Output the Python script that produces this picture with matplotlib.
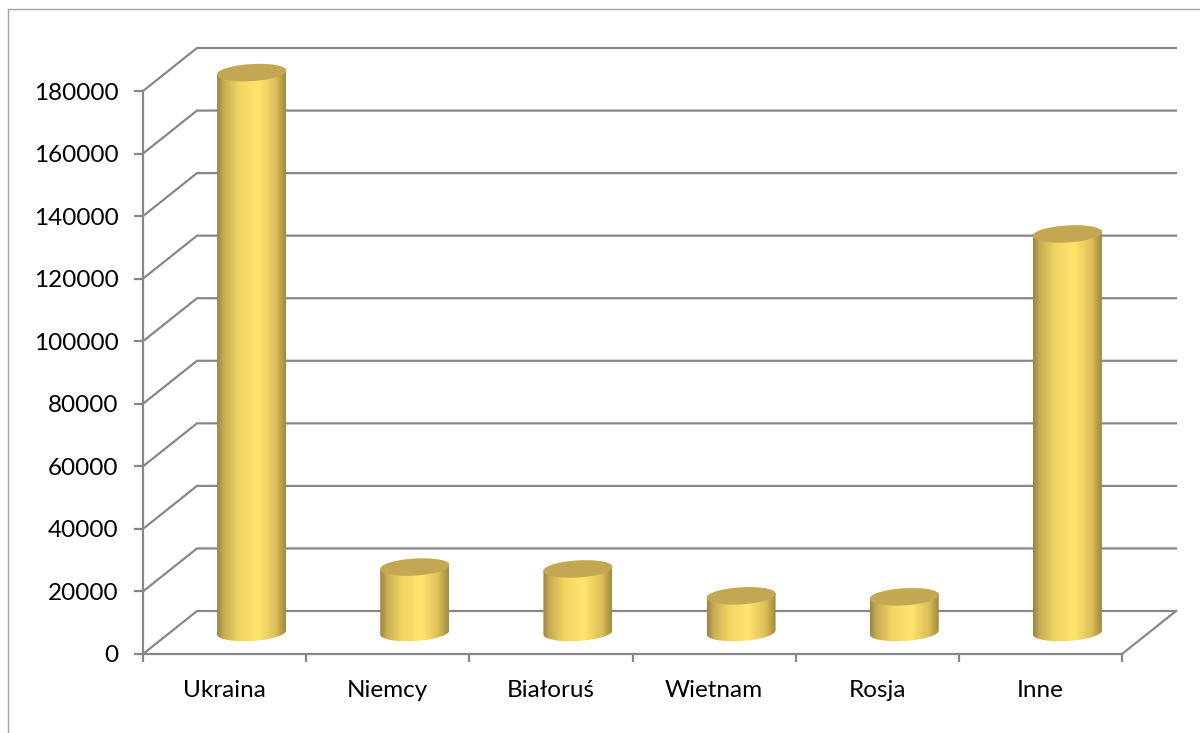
import matplotlib
matplotlib.use('Agg')
import matplotlib.pyplot as plt
import numpy as np
from matplotlib.patches import Polygon
from matplotlib.colors import LinearSegmentedColormap
from matplotlib.lines import Line2D

# data
categories = ['Ukraina', 'Niemcy', 'Białoruś', 'Wietnam', 'Rosja', 'Inne']
values = [179000, 20900, 20300, 11700, 11400, 127400]
yticks = list(range(0, 180001, 20000))

plt.rcParams['font.family'] = ['Lato', 'DejaVu Sans']

W, H = 1200, 733
fig = plt.figure(figsize=(W / 100, H / 100), dpi=100)

# front plane of the fake 3-D box (pixels): x 143..1122, y 91..654
ax = fig.add_axes([143 / W, (H - 654) / H, (1122 - 143) / W, (654 - 91) / H])

px_x = 6 / (1122 - 143)        # data units per pixel, x
px_y = 180000 / (654 - 91)     # data units per pixel, y

# oblique depth offset of the back wall
dx = 54 * px_x
dy = 43 * px_y
grid = '#878787'

##walls / gridlines
for v in yticks:
    ax.plot([-0.5, -0.5 + dx, 5.5 + dx], [v, v + dy, v + dy], color=grid, lw=1.6,
            clip_on=False, zorder=1, solid_joinstyle='miter')
ax.plot([5.5, 5.5 + dx], [0, dy], color=grid, lw=1.6, clip_on=False, zorder=1)

##cylinders
rx = 34.5 * px_x
ry = 8.5 * px_y
sh = 2.0 * px_y   # small tilt of the ellipses
cmap = LinearSegmentedColormap.from_list('cyl', [
    (0.0, '#9a8540'), (0.1, '#c8ad55'), (0.32, '#f3d463'),
    (0.6, '#ffe46d'), (0.85, '#dcbf58'), (1.0, '#a08a3c')])
grad = np.linspace(0, 1, 256).reshape(1, -1)

tb = np.linspace(np.pi, 2 * np.pi, 60)
tt = np.linspace(0, np.pi, 60)
ta = np.linspace(0, 2 * np.pi, 120)
for i, v in enumerate(values):
    cx = i + dx / 2
    y0 = dy / 2
    y1 = v + dy / 2
    xb = cx + rx * np.cos(tb)
    yb = y0 + ry * np.sin(tb) + sh * np.cos(tb)
    xt = cx + rx * np.cos(tt)
    yt = y1 + ry * np.sin(tt) + sh * np.cos(tt)
    body = Polygon(np.vstack([np.column_stack([xb, yb]), np.column_stack([xt, yt])]),
                   closed=True, transform=ax.transData, facecolor='none', edgecolor='none')
    im = ax.imshow(grad, cmap=cmap, aspect='auto', interpolation='bilinear',
                   extent=[cx - rx, cx + rx, y0 - ry - sh, y1 + ry + sh], zorder=3)
    im.set_clip_box(fig.bbox)
    im.set_clip_path(body)
    top = Polygon(np.column_stack([cx + rx * np.cos(ta), y1 + ry * np.sin(ta) + sh * np.cos(ta)]),
                  closed=True, facecolor='#c4a752', edgecolor='none', zorder=4, clip_on=False)
    ax.add_patch(top)

ax.set_xlim(-0.5, 5.5)
ax.set_ylim(0, 180000)
ax.set_facecolor('none')
for s in ['top', 'right']:
    ax.spines[s].set_visible(False)
for s in ['left', 'bottom']:
    ax.spines[s].set_color(grid)
    ax.spines[s].set_linewidth(1.6)

ax.set_yticks(yticks)
ax.tick_params(axis='y', length=6.5, width=1.6, color=grid, pad=11, labelsize=17.5)
ax.set_xticks(range(len(categories)))
ax.set_xticklabels(categories)
ax.set_xticks(np.arange(-0.5, len(categories)), minor=True)
ax.tick_params(axis='x', which='major', length=0, pad=19, labelsize=17.5)
ax.tick_params(axis='x', which='minor', length=6, width=1.6, color=grid)

# chart area border (cut by the image edge)
fig.add_artist(Line2D([7.5 / W, 7.5 / W], [0, (H - 9) / H], color='#a6a6a6', lw=1,
                      transform=fig.transFigure))
fig.add_artist(Line2D([7.5 / W, 1], [(H - 9) / H, (H - 9) / H], color='#a6a6a6', lw=1,
                      transform=fig.transFigure))

fig.savefig('out.png', dpi=100)
